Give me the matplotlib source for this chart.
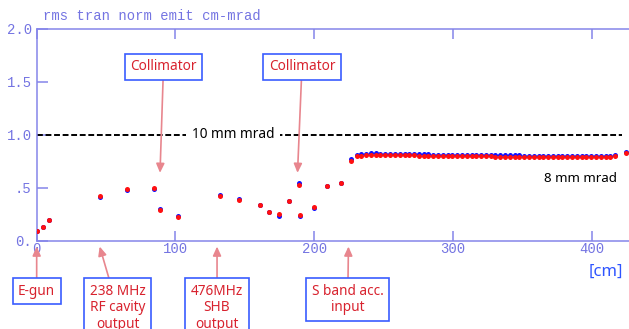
import matplotlib
matplotlib.use("Agg")
import matplotlib.pyplot as plt

# beam position along the line [cm]
pos_cm = [0.0, 4.3, 8.9, 45.7, 65.0, 84.6, 88.7, 101.9, 132.0, 146.0,
          160.8, 167.8, 174.7, 181.7, 189.1, 190.1, 199.7, 209.0, 219.0, 226.3,
          230.6, 234.0, 237.5, 240.9, 244.4, 247.8, 251.3, 254.7, 258.2, 261.6,
          265.1, 268.5, 272.0, 275.4, 278.9, 282.3, 285.8, 289.2, 292.7, 296.1,
          299.6, 303.0, 306.5, 309.9, 313.4, 316.8, 320.3, 323.7, 327.2, 330.6,
          334.1, 337.5, 341.0, 344.4, 347.9, 351.3, 354.8, 358.2, 361.7, 365.1,
          368.6, 372.0, 375.5, 378.9, 382.4, 385.8, 389.3, 392.7, 396.2, 399.6,
          403.1, 406.5, 410.0, 413.4, 416.9, 424.6]

# rms normalized emittance, horizontal plane (blue)
emit_x = [0.094, 0.129, 0.195, 0.410, 0.478, 0.485, 0.300, 0.232, 0.430, 0.395,
          0.334, 0.268, 0.236, 0.377, 0.548, 0.232, 0.310, 0.513, 0.541, 0.772,
          0.808, 0.816, 0.821, 0.823, 0.823, 0.822, 0.821, 0.820, 0.819, 0.818,
          0.817, 0.816, 0.816, 0.815, 0.815, 0.814, 0.813, 0.813, 0.812, 0.812,
          0.811, 0.811, 0.810, 0.809, 0.809, 0.808, 0.808, 0.807, 0.807, 0.806,
          0.806, 0.805, 0.805, 0.804, 0.804, 0.803, 0.803, 0.803, 0.802, 0.802,
          0.801, 0.801, 0.800, 0.800, 0.800, 0.799, 0.799, 0.798, 0.798, 0.797,
          0.797, 0.797, 0.798, 0.800, 0.806, 0.836]

# rms normalized emittance, vertical plane (red)
emit_y = [0.094, 0.129, 0.195, 0.422, 0.489, 0.494, 0.290, 0.221, 0.418, 0.388,
          0.334, 0.268, 0.248, 0.377, 0.530, 0.245, 0.322, 0.513, 0.541, 0.755,
          0.795, 0.803, 0.808, 0.810, 0.810, 0.810, 0.809, 0.808, 0.807, 0.806,
          0.805, 0.804, 0.804, 0.803, 0.803, 0.802, 0.801, 0.801, 0.800, 0.800,
          0.799, 0.799, 0.798, 0.797, 0.797, 0.796, 0.796, 0.795, 0.795, 0.794,
          0.794, 0.793, 0.793, 0.792, 0.792, 0.791, 0.791, 0.791, 0.790, 0.790,
          0.789, 0.789, 0.788, 0.788, 0.788, 0.787, 0.787, 0.786, 0.786, 0.785,
          0.785, 0.785, 0.786, 0.789, 0.795, 0.828]

xticks = [0, 100, 200, 300, 400]
yticks = [0.0, 0.5, 1.0, 1.5, 2.0]
ytick_labels = ["0.", ".5", "1.0", "1.5", "2.0"]

ref_level = 1.0

# (label, arrow target [cm], box centre [cm])
top_notes = [("Collimator", 88.9, 91.4),
             ("Collimator", 188.0, 191.2)]
bottom_notes = [("E-gun", 0.0, 0.0),
                ("238 MHz\nRF cavity\noutput", 45.4, 58.3),
                ("476MHz\nSHB\noutput", 130.0, 130.0),
                ("S band acc.\ninput", 224.7, 224.2)]

axis_col = "#8585ea"
label_col = "#7474e2"
box_edge = "#3a5cff"
note_col = "#d8222e"
arrow_col = "#e8868e"
mono = "Liberation Mono"
sans = "Noto Sans"
note_size = 9.8

fig = plt.figure(figsize=(6.29, 3.29), dpi=100)
ax = fig.add_axes([0.0583, 0.2684, 0.9417, 0.6444])

ax.plot(pos_cm, emit_x, "o", color="#1010ff", ms=3.6, mec="none", zorder=3)
ax.plot(pos_cm, emit_y, "o", color="#ff1010", ms=3.6, mec="none", zorder=4)

ax.set_xlim(0, 426.9)
ax.set_ylim(0, 2.0)

for side in ("left", "top", "bottom"):
    ax.spines[side].set_color(axis_col)
    ax.spines[side].set_linewidth(1.1)
ax.spines["right"].set_visible(False)

ax.set_xticks(xticks)
ax.set_yticks(yticks)
ax.set_yticklabels(ytick_labels)
ax.tick_params(axis="x", direction="in", length=7, width=1.1, color=axis_col,
               labelcolor=label_col, labelsize=10, pad=0.8, top=True)
ax.tick_params(axis="y", direction="in", length=8, width=1.1, color=axis_col,
               labelcolor=label_col, labelsize=10, pad=3.5)
for lab in ax.get_xticklabels() + ax.get_yticklabels():
    lab.set_family(mono)

# 10 mm mrad reference line
ax.plot([0, 421.5], [ref_level, ref_level], color="black", lw=1.4,
        linestyle=(0, (3.0, 1.4)), zorder=2)
ax.text(141.5, ref_level, "10 mm mrad", fontsize=note_size, family=sans,
        ha="center", va="center", zorder=2.5,
        bbox=dict(boxstyle="square,pad=0.42", fc="white", ec="none"))
ax.text(392.0, 0.585, "8 mm mrad", fontsize=9.6, family=sans,
        ha="center", va="center")

box = dict(boxstyle="square,pad=0.4", fc="white", ec=box_edge, lw=1.2)
arrow = dict(arrowstyle="-|>,head_length=0.55,head_width=0.25",
             color=arrow_col, lw=1.2, shrinkA=0, shrinkB=0)

for text, target, centre in top_notes:
    ax.annotate(text, xy=(target, 0.64), xytext=(centre, 1.64),
                ha="center", va="center", fontsize=note_size, family=sans,
                color=note_col, bbox=box, arrowprops=arrow, zorder=6)

for text, target, centre in bottom_notes:
    ax.annotate(text, xy=(target, -0.055), xytext=(centre, -0.405),
                ha="center", va="top", fontsize=note_size, family=sans,
                color=note_col, bbox=box, arrowprops=arrow, linespacing=1.15,
                annotation_clip=False, zorder=6)

fig.text(43 / 629, 1 - 16 / 329, "rms tran norm emit cm-mrad", family=mono,
         fontsize=10, color=label_col, ha="left", va="center")
fig.text(623 / 629, 1 - 272 / 329, "[cm]", family=sans, fontsize=12,
         color="#2f55ff", ha="right", va="center")

fig.savefig("out.png", dpi=100)
